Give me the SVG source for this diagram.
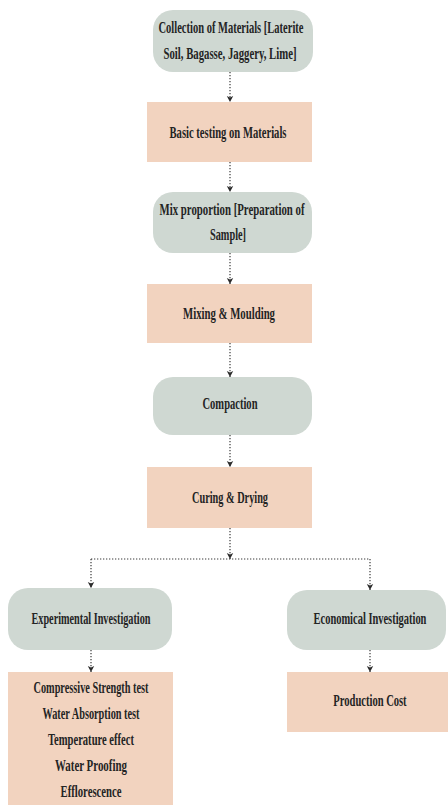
<svg xmlns="http://www.w3.org/2000/svg" width="448" height="807" viewBox="0 0 448 807">
<style>
.pill{fill:#cfd8d2}
.box{fill:#f2d3bf}
.t{font-family:"Liberation Serif","Times New Roman",serif;font-weight:bold;font-size:17px;fill:#242424;text-anchor:middle}
.c{fill:none;stroke:#3a3a3a;stroke-width:1.2;stroke-dasharray:1.3 1.7}
</style>
<defs>
<marker id="ah" markerWidth="8" markerHeight="8" refX="6" refY="4" orient="auto" markerUnits="userSpaceOnUse">
<path d="M0,0.8 L6,4 L0,7.2 L1.5,4 Z" fill="#2b2b2b"/>
</marker>
</defs>
<rect width="448" height="807" fill="#ffffff"/>
<g id="connectors">
<line class="c" x1="230" y1="72" x2="230" y2="102" marker-end="url(#ah)"/>
<line class="c" x1="230" y1="162" x2="230" y2="192" marker-end="url(#ah)"/>
<line class="c" x1="230" y1="253" x2="230" y2="284" marker-end="url(#ah)"/>
<line class="c" x1="230" y1="343" x2="230" y2="377" marker-end="url(#ah)"/>
<line class="c" x1="230" y1="435" x2="230" y2="467" marker-end="url(#ah)"/>
<line class="c" x1="230" y1="528" x2="230" y2="559" marker-end="url(#ah)"/>
<line class="c" x1="91" y1="559" x2="370" y2="559"/>
<line class="c" x1="91" y1="559" x2="91" y2="588" marker-end="url(#ah)"/>
<line class="c" x1="370" y1="559" x2="370" y2="590" marker-end="url(#ah)"/>
<line class="c" x1="91" y1="650" x2="91" y2="672" marker-end="url(#ah)"/>
<line class="c" x1="370" y1="650" x2="370" y2="672" marker-end="url(#ah)"/>
</g>
<g id="n1">
<rect class="pill" x="153" y="10" width="160" height="62" rx="20"/>
<text class="t" x="231" y="33" textLength="145" lengthAdjust="spacingAndGlyphs">Collection of Materials [Laterite</text>
<text class="t" x="230" y="59" textLength="133" lengthAdjust="spacingAndGlyphs">Soil, Bagasse, Jaggery, Lime]</text>
</g>
<g id="n2">
<rect class="box" x="147" y="102" width="165" height="60"/>
<text class="t" x="228" y="138" textLength="117" lengthAdjust="spacingAndGlyphs">Basic testing on Materials</text>
</g>
<g id="n3">
<rect class="pill" x="153" y="192" width="159" height="61" rx="20"/>
<text class="t" x="232" y="215" textLength="145" lengthAdjust="spacingAndGlyphs">Mix proportion [Preparation of</text>
<text class="t" x="228" y="240" textLength="36" lengthAdjust="spacingAndGlyphs">Sample]</text>
</g>
<g id="n4">
<rect class="box" x="147" y="284" width="165" height="59"/>
<text class="t" x="229" y="319" textLength="92" lengthAdjust="spacingAndGlyphs">Mixing &amp; Moulding</text>
</g>
<g id="n5">
<rect class="pill" x="153" y="377" width="159" height="58" rx="20"/>
<text class="t" x="230" y="409" textLength="55" lengthAdjust="spacingAndGlyphs">Compaction</text>
</g>
<g id="n6">
<rect class="box" x="147" y="467" width="165" height="61"/>
<text class="t" x="230" y="503" textLength="76" lengthAdjust="spacingAndGlyphs">Curing &amp; Drying</text>
</g>
<g id="n7">
<rect class="pill" x="8" y="588" width="164" height="62" rx="20"/>
<text class="t" x="91" y="624" textLength="119" lengthAdjust="spacingAndGlyphs">Experimental Investigation</text>
</g>
<g id="n8">
<rect class="box" x="8" y="672" width="165" height="133"/>
<text class="t" x="91" y="693" textLength="115" lengthAdjust="spacingAndGlyphs">Compressive Strength test</text>
<text class="t" x="91" y="719" textLength="97" lengthAdjust="spacingAndGlyphs">Water Absorption test</text>
<text class="t" x="91" y="745" textLength="86" lengthAdjust="spacingAndGlyphs">Temperature effect</text>
<text class="t" x="91" y="771" textLength="72" lengthAdjust="spacingAndGlyphs">Water Proofing</text>
<text class="t" x="91" y="797" textLength="61" lengthAdjust="spacingAndGlyphs">Efflorescence</text>
</g>
<g id="n9">
<rect class="pill" x="287" y="590" width="159" height="60" rx="20"/>
<text class="t" transform="translate(370,624) scale(0.66,1)" x="0" y="0" textLength="171" lengthAdjust="spacingAndGlyphs">Economical Investigation</text>
</g>
<g id="n10">
<rect class="box" x="287" y="672" width="161" height="60"/>
<text class="t" transform="translate(370,706) scale(0.66,1)" x="0" y="0" textLength="111" lengthAdjust="spacingAndGlyphs">Production Cost</text>
</g>
</svg>
